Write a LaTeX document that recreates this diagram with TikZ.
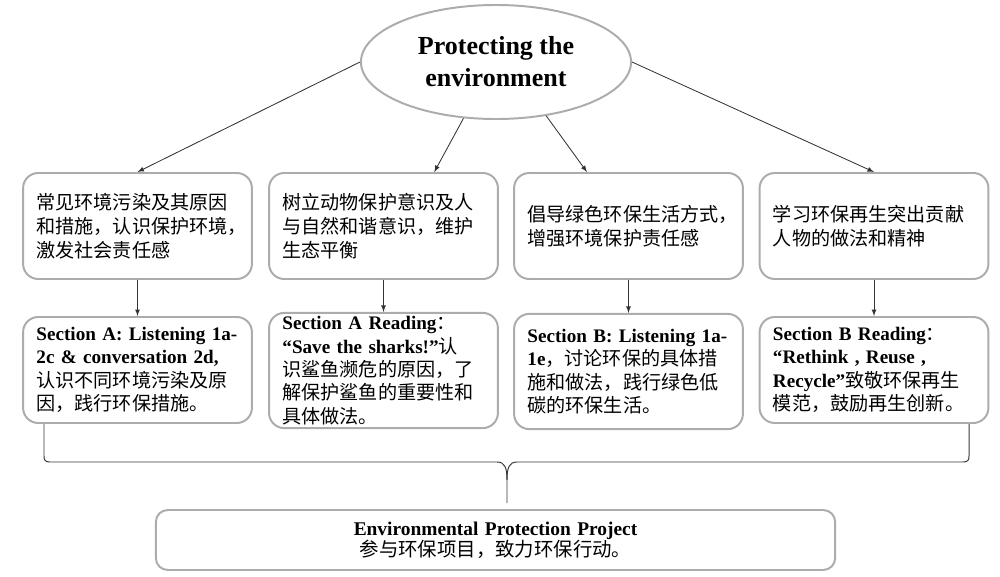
\documentclass[tikz,border=0pt]{standalone}
\usepackage{fontspec}
\setmainfont{Liberation Serif}
\newfontfamily\cjk{Noto Sans CJK SC}
\newcommand\en[1]{{\rmfamily\bfseries #1}}
\usetikzlibrary{shapes.geometric,calc}

\begin{document}
\begin{tikzpicture}[x=0.025cm,y=-0.025cm,
  aimbox/.style={draw=gray!65, line width=1.4pt, rounded corners=0.38cm, fill=white,
    minimum width=5.72cm, minimum height=2.65cm, text width=5.05cm, inner xsep=0.335cm,
    inner ysep=2pt, align=left, font=\fontsize{13.6}{17}\selectfont\cjk},
  secbox/.style={aimbox, font=\fontsize{13.6}{16.6}\selectfont\cjk},
  arr/.style={-latex, draw=gray!40!black, line width=0.6pt},
  brace/.style={draw=gray!45!black, line width=0.7pt}]
\useasboundingbox (0,0) rectangle (1000,577);

% Central topic
\node[ellipse, draw=gray!65, line width=1.4pt, fill=white, minimum width=6.75cm, minimum height=2.85cm,
  inner sep=0pt, align=center, font=\fontsize{18.5}{22.8}\selectfont\bfseries] (topic) at (496,62)
  {Protecting the\\environment};

% Aims
\node[aimbox] (aim1) at (137.5,226) {常见环境污染及其原因\\和措施，认识保护环境，\\激发社会责任感};
\node[aimbox] (aim2) at (383.5,226) {树立动物保护意识及人\\与自然和谐意识，维护\\生态平衡};
\node[aimbox] (aim3) at (628.5,226) {倡导绿色环保生活方式，\\增强环境保护责任感};
\node[aimbox] (aim4) at (874,226) {学习环保再生突出贡献\\人物的做法和精神};

% Sections
\node[secbox] (sec1) at (137.5,370) {\en{Section A: Listening 1a-}\\\en{2c \& conversation 2d,}\\认识不同环境污染及原\\因，践行环保措施。};
\node[secbox, minimum height=2.88cm] (sec2) at (383.5,370.5) {\en{Section A Reading}：\\\en{“Save the sharks!”}认\\识鲨鱼濒危的原因，了\\解保护鲨鱼的重要性和\\具体做法。};
\node[secbox, minimum height=2.88cm] (sec3) at (628.5,371.5) {\en{Section B: Listening 1a-}\\\en{1e}，讨论环保的具体措\\施和做法，践行绿色低\\碳的环保生活。};
\node[secbox] (sec4) at (874,370) {\en{Section B Reading}：\\\en{“Rethink , Reuse ,}\\\en{Recycle”}致敬环保再生\\模范，鼓励再生创新。};

% Project
\node[draw=gray!65, line width=1.4pt, rounded corners=0.3cm, fill=white, minimum width=16.98cm,
  minimum height=1.5cm, text width=16cm, inner ysep=2pt, align=center,
  font=\fontsize{13.8}{15}\selectfont\cjk] (proj) at (495.5,540)
  {\en{Environmental Protection Project}\\参与环保项目，致力环保行动。};

% Arrows
\draw[arr] (topic.west) -- (aim1.north);
\draw[arr] (topic.240) -- ($(aim2.north west)!0.72!(aim2.north east)$);
\draw[arr] (topic.313) -- ($(aim3.north west)!0.32!(aim3.north east)$);
\draw[arr] (topic.east) -- (aim4.north);
\foreach \i in {1,...,4}
  \draw[arr] (aim\i) -- (sec\i);

% Brace
\coordinate (brL) at (44,424);
\coordinate (brR) at (969,424);
\coordinate (brM) at (507,503);
\draw[brace] (brL) -- (44,456) .. controls (44,460) and (45,462) .. (50,462) -- (497,462)
  .. controls (505,462) and (507,468) .. (507,480) -- (brM);
\draw[brace] (brR) -- (969,456) .. controls (969,460) and (968,462) .. (963,462) -- (517,462)
  .. controls (509,462) and (507,468) .. (507,480);
\end{tikzpicture}
\end{document}
